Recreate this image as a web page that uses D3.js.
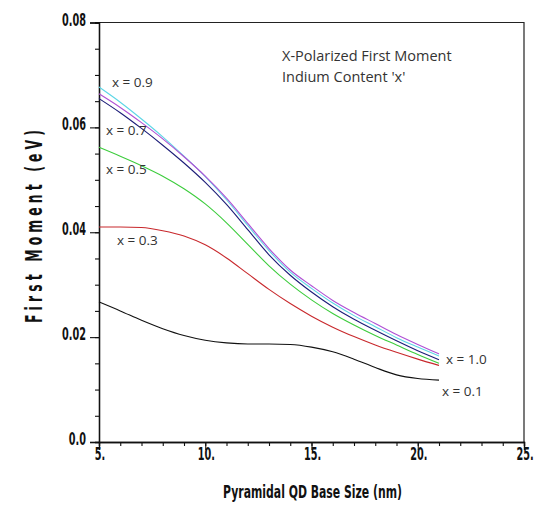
<!DOCTYPE html>
<html>
<head>
<meta charset="utf-8">
<title>X-Polarized First Moment</title>
<style>
  body { margin: 0; background: #fff; }
  .tick-label { font-family: 'DejaVu Sans Condensed', 'DejaVu Sans', sans-serif; font-weight: bold; font-size: 18px; fill: #111; }
  .note { font-family: 'Open Sans', 'Noto Sans', sans-serif; font-size: 13.5px; fill: #333; }
</style>
</head>
<body>
<svg width="536" height="512"></svg>
<script src="https://d3js.org/d3.v7.min.js"></script>
<script>

const xValues = [5, 6, 7, 8, 9, 10, 11, 12, 13, 14, 15, 16, 17, 18, 19, 20, 21]

// first moment (eV) per indium content x
const x01 = [0.0267, 0.0250, 0.0232, 0.0216, 0.0203, 0.0194, 0.0189, 0.0187, 0.0187, 0.0186, 0.0181, 0.0172, 0.0158, 0.0142, 0.0128, 0.0121, 0.0118]
const x03 = [0.0410, 0.0410, 0.0409, 0.0403, 0.0393, 0.0376, 0.0351, 0.0321, 0.0291, 0.0264, 0.0240, 0.0219, 0.0201, 0.0185, 0.0171, 0.0158, 0.0146]
const x05 = [0.0562, 0.0545, 0.0527, 0.0507, 0.0483, 0.0454, 0.0418, 0.0377, 0.0336, 0.0301, 0.0271, 0.0245, 0.0223, 0.0203, 0.0185, 0.0167, 0.0150]
const x07 = [0.0655, 0.0628, 0.0598, 0.0566, 0.0532, 0.0495, 0.0453, 0.0405, 0.0357, 0.0318, 0.0286, 0.0258, 0.0234, 0.0213, 0.0193, 0.0174, 0.0157]
const x09 = [0.0677, 0.0648, 0.0616, 0.0582, 0.0545, 0.0506, 0.0462, 0.0413, 0.0365, 0.0324, 0.0293, 0.0265, 0.0241, 0.0220, 0.0199, 0.0181, 0.0164]
const x10 = [0.0664, 0.0638, 0.0609, 0.0578, 0.0544, 0.0507, 0.0465, 0.0417, 0.0369, 0.0328, 0.0298, 0.0270, 0.0247, 0.0226, 0.0205, 0.0186, 0.0168]

const seriesNames = ['x = 0.1', 'x = 0.3', 'x = 0.5', 'x = 0.7', 'x = 0.9', 'x = 1.0']
const seriesValues = [x01, x03, x05, x07, x09, x10]
const seriesColors = ['#111111', '#c8282c', '#3ccc3c', '#1c1c78', '#5cd6e6', '#b050d4']

const xTicks = [5, 10, 15, 20, 25]
const xTickLabels = ['5.', '10.', '15.', '20.', '25.']
const yTicks = [0, 0.02, 0.04, 0.06, 0.08]
const yTickLabels = ['0.0', '0.02', '0.04', '0.06', '0.08']

const plotLeft = 99, plotRight = 524, plotTop = 22.5, plotBottom = 442
const squeeze = 0.6   // the original uses a very narrow plotter font

const svg = d3.select('svg')

const x = d3.scaleLinear().domain([5, 25]).range([plotLeft, plotRight])
const y = d3.scaleLinear().domain([0, 0.08]).range([plotBottom, plotTop])

// frame
svg.append('path')
	.attr('d', `M${plotLeft},${plotTop}H${plotRight}V${plotBottom}`)
	.attr('fill', 'none')
	.attr('stroke', '#222')
	.attr('stroke-width', 1.2)

// minor then major ticks
svg.append('g')
	.attr('transform', `translate(${plotLeft},0)`)
	.call(d3.axisLeft(y).ticks(20).tickSize(4).tickFormat(''))
svg.append('g')
	.attr('transform', `translate(${plotLeft},0)`)
	.call(d3.axisLeft(y).tickValues(yTicks).tickSize(9).tickFormat(''))

svg.append('g')
	.attr('transform', `translate(0,${plotBottom})`)
	.call(d3.axisBottom(x).ticks(20).tickSize(4).tickFormat(''))
svg.append('g')
	.attr('transform', `translate(0,${plotBottom})`)
	.call(d3.axisBottom(x).tickValues(xTicks).tickSize(8).tickFormat(''))

svg.selectAll('.domain').attr('stroke', '#111').attr('stroke-width', 1.3)
svg.selectAll('.tick line').attr('stroke', '#111').attr('stroke-width', 1.1)

svg.append('g').selectAll('text')
	.data(yTicks)
	.join('text')
	.attr('class', 'tick-label')
	.attr('transform', d => `translate(${plotLeft - 13},${y(d) + 3}) scale(${squeeze},1)`)
	.attr('text-anchor', 'end')
	.text((d, i) => yTickLabels[i])

svg.append('g').selectAll('text')
	.data(xTicks)
	.join('text')
	.attr('class', 'tick-label')
	.attr('transform', d => `translate(${x(d) + 1},${plotBottom + 18}) scale(${squeeze},1)`)
	.attr('text-anchor', 'middle')
	.text((d, i) => xTickLabels[i])

// axis titles
svg.append('text')
	.attr('class', 'tick-label')
	.attr('x', (plotLeft + plotRight) / 2 + 1)
	.attr('y', 498)
	.attr('text-anchor', 'middle')
	.style('font-size', '18px')
	.attr('textLength', 179)
	.attr('lengthAdjust', 'spacingAndGlyphs')
	.text('Pyramidal QD  Base Size (nm)')

svg.append('text')
	.attr('class', 'tick-label')
	.attr('transform', `translate(42,323) rotate(-90) scale(${squeeze},1)`)
	.style('font-size', '23px')
	.attr('textLength', 193 / squeeze)
	.attr('lengthAdjust', 'spacing')
	.text('First Moment (eV)')

// curves
const line = d3.line()
	.x((d, i) => x(xValues[i]))
	.y(d => y(d))
	.curve(d3.curveMonotoneX)

svg.append('g').selectAll('path')
	.data(seriesValues)
	.join('path')
	.attr('d', line)
	.attr('fill', 'none')
	.attr('stroke', (d, i) => seriesColors[i])
	.attr('stroke-width', 1.1)

// curve labels
const labelPos = [[442, 396], [117, 245], [106, 174], [106, 135], [112, 87], [446, 364]]

svg.append('g').selectAll('text')
	.data(seriesNames)
	.join('text')
	.attr('class', 'note')
	.attr('x', (d, i) => labelPos[i][0])
	.attr('y', (d, i) => labelPos[i][1])
	.text(d => d)

svg.append('text').attr('class', 'note').attr('x', 282).attr('y', 61)
	.style('font-size', '14.5px').text('X-Polarized First Moment')
svg.append('text').attr('class', 'note').attr('x', 282).attr('y', 82)
	.style('font-size', '14.5px').text("Indium Content 'x'")

</script>
</body>
</html>
